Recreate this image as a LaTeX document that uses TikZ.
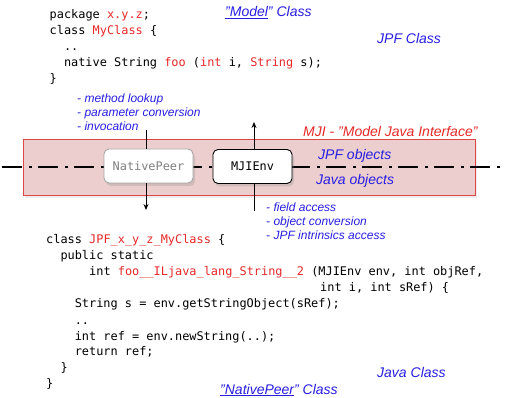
\documentclass[tikz,border=0pt]{standalone}
\usepackage{fontspec}
\setmainfont{Liberation Sans}
\newfontfamily\codefont{DejaVu Sans Mono}
\usetikzlibrary{arrows.meta,shadows}
\definecolor{lblue}{RGB}{40,30,225}
\definecolor{lred}{RGB}{230,40,40}
\definecolor{mjifill}{RGB}{236,206,206}
\definecolor{mjiborder}{RGB}{225,70,70}
\newcommand{\rd}[1]{\textcolor{lred}{#1}}
\begin{document}
\begin{tikzpicture}[x=1pt,y=-1pt,
  code/.style={anchor=base west,inner sep=0pt,font=\codefont\fontsize{11.9}{14}\selectfont},
  lbl/.style={anchor=base west,inner sep=0pt,text=lblue,font=\itshape\fontsize{12}{14}\selectfont},
  ttl/.style={anchor=base west,inner sep=0pt,text=lblue,font=\itshape\fontsize{14}{16}\selectfont},
  peerbox/.style={draw,rounded corners=5pt,fill=white,line width=0.9pt,
    minimum width=89pt,minimum height=34pt,inner sep=0pt,
    font=\codefont\fontsize{11.9}{14}\selectfont,
    drop shadow={opacity=0.25,shadow xshift=2pt,shadow yshift=-3pt}},
  arr/.style={line width=0.8pt,-{Stealth[length=6pt,width=5pt]}},
  plain/.style={line width=0.8pt}
]
\useasboundingbox (0,0) rectangle (509,398);

% MJI band
\node (band) [draw=mjiborder,fill=mjifill,line width=0.7pt,minimum width=452pt,minimum height=56pt,inner sep=0pt,
  drop shadow={opacity=0.15,shadow xshift=2pt,shadow yshift=-3pt}] at (249,167) {};
\coordinate (axisL) at (2,167);
\coordinate (axisR) at (502,167);
\draw[line width=2pt,dash pattern=on 20pt off 7pt on 3pt off 6pt] (axisL) -- (axisR);

% boxes
\node (np) [peerbox,draw=black!35,text=black!50] at (148.5,166) {NativePeer};
\node (mj) [peerbox,draw=black,minimum width=79pt] at (252.5,166.5) {MJIEnv};

% arrows
\coordinate (npin) at (146,130);
\coordinate (npout) at (146,210);
\coordinate (mjin) at (254,211);
\coordinate (mjout) at (254,122);
\draw[plain] (npin) -- (npin |- np.north);
\draw[arr] (npout |- np.south) -- (npout);
\draw[plain] (mjin) -- (mjin |- mj.south);
\draw[arr] (mjout |- mj.north) -- (mjout);

% top code
\node (c1) [code] at (49.5,19) {package \rd{x.y.z};};
\node (c2) [code] at (49.5,35) {class \rd{MyClass} \{};
\node (c3) [code] at (63.8,51) {..};
\node (c4) [code] at (63.8,67) {native String \rd{foo} (\rd{int} i, \rd{String} s);};
\node (c5) [code] at (49.5,83) {\}};

% bottom code
\node (d1) [code] at (46,244) {class \rd{JPF\_x\_y\_z\_MyClass} \{};
\node (d2) [code] at (60.3,260) {public static};
\node (d3) [code] at (89,276) {int \rd{foo\_\_ILjava\_lang\_String\_\_2} (MJIEnv env, int objRef,};
\node (d4) [code] at (320,292) {int i, int sRef) \{};
\node (d5) [code] at (74.6,308) {String s = env.getStringObject(sRef);};
\node (d6) [code] at (74.6,324) {..};
\node (d7) [code] at (74.6,340) {int ref = env.newString(..);};
\node (d8) [code] at (74.6,355.5) {return ref;};
\node (d9) [code] at (60.3,371) {\}};
\node (d10) [code] at (46,387) {\}};

% titles
\node (tModel) [ttl] at (225,17) {\underline{"Model}" Class};
\node (tJPF) [ttl] at (377,44) {JPF Class};
\node (tMJI) [ttl,text=lred] at (303,137) {MJI - "Model Java Interface"};
\node (tJPFo) [ttl] at (318,159.5) {JPF objects};
\node (tJavao) [ttl] at (316,185) {Java objects};
\node (tJava) [ttl] at (377,377) {Java Class};
\node (tNP) [ttl] at (220,394) {\underline{"NativePeer}" Class};

% bullet labels
\node (l1) [lbl] at (77,103) {- method lookup};
\node (l2) [lbl] at (77,117) {- parameter conversion};
\node (l3) [lbl] at (77,131) {- invocation};
\node (r1) [lbl] at (266,212) {- field access};
\node (r2) [lbl] at (266,226) {- object conversion};
\node (r3) [lbl] at (266,240) {- JPF intrinsics access};
\end{tikzpicture}
\end{document}
